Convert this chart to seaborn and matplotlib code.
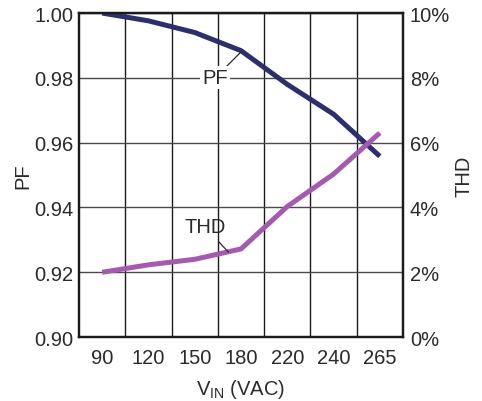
import matplotlib
matplotlib.use("Agg")
import matplotlib.pyplot as plt
import seaborn as sns
import pandas as pd
from matplotlib.ticker import FuncFormatter, FixedLocator

vin_labels = ["90", "120", "150", "180", "220", "240", "265"]
pf_values = [1.000, 0.9976, 0.994, 0.9884, 0.978, 0.9688, 0.9558]
thd_values = [2.0, 2.23, 2.4, 2.72, 4.03, 5.03, 6.3]
pf_ticks = [0.90, 0.92, 0.94, 0.96, 0.98, 1.00]
thd_ticks = [0, 2, 4, 6, 8, 10]

sns.set_theme(style="white")
plt.rcParams["font.family"] = ["Liberation Sans", "DejaVu Sans"]
plt.rcParams["mathtext.fontset"] = "custom"
plt.rcParams["mathtext.rm"] = "Liberation Sans"
text_color = "#2a2a2a"
fs = 14.5

df = pd.DataFrame({"vin": vin_labels, "pf": pf_values, "thd": thd_values})

fig = plt.figure(figsize=(4.82, 4.02), dpi=100)
ax = fig.add_axes([0.164, 0.159, 0.672, 0.806])
ax2 = ax.twinx()

pf_color = "#2c2f6c"
thd_color = "#a45aae"

sns.lineplot(data=df, x="vin", y="pf", ax=ax, color=pf_color, lw=3.6,
             sort=False, solid_capstyle="butt")
sns.lineplot(data=df, x="vin", y="thd", ax=ax2, color=thd_color, lw=3.6,
             sort=False, solid_capstyle="butt")

n = len(vin_labels)
ax.set_xlim(-0.5, n - 0.5)
ax.set_ylim(0.90, 1.00)
ax2.set_ylim(0, 10)

ax.set_xticks(range(n))
ax.set_xticklabels(vin_labels)
ax.xaxis.set_minor_locator(FixedLocator([i + 0.5 for i in range(n - 1)]))
ax.set_yticks(pf_ticks)
ax.yaxis.set_major_formatter(FuncFormatter(lambda v, p: f"{v:.2f}"))
ax2.set_yticks(thd_ticks)
ax2.yaxis.set_major_formatter(FuncFormatter(lambda v, p: f"{v:.0f}%"))

ax.grid(False)
ax2.grid(False)
ax.grid(True, which="minor", axis="x", color="#1a1a1a", lw=1.0)
ax.grid(True, which="major", axis="y", color="#4a4a4a", lw=1.0)

for a in (ax, ax2):
    a.tick_params(axis="both", which="both", length=0, labelsize=fs,
                  colors=text_color)
    for s in a.spines.values():
        s.set_color("#1a1a1a")
        s.set_linewidth(1.6)
ax.tick_params(axis="x", pad=8)
ax.tick_params(axis="y", pad=4)
ax2.tick_params(axis="y", pad=5)

ax.set_xlabel(r"V$_{\mathregular{IN}}$ (VAC)", fontsize=fs, color=text_color, labelpad=7)
ax.set_ylabel("PF", fontsize=fs, color=text_color, labelpad=1)
ax2.set_ylabel("THD", fontsize=fs, color=text_color, labelpad=3)

ax.annotate("PF", xy=(3.0, 0.9880), xytext=(2.44, 0.980), fontsize=fs,
            color=text_color, ha="center", va="center",
            bbox=dict(fc="white", ec="none", pad=1.5),
            arrowprops=dict(arrowstyle="-", color=text_color, lw=0.9,
                            shrinkA=0, shrinkB=0))
ax2.annotate("THD", xy=(2.73, 2.62), xytext=(2.22, 3.4), fontsize=fs,
             color=text_color, ha="center", va="center",
             arrowprops=dict(arrowstyle="-", color=text_color, lw=0.9,
                             shrinkA=2, shrinkB=0))

fig.savefig("out.png", dpi=100)
